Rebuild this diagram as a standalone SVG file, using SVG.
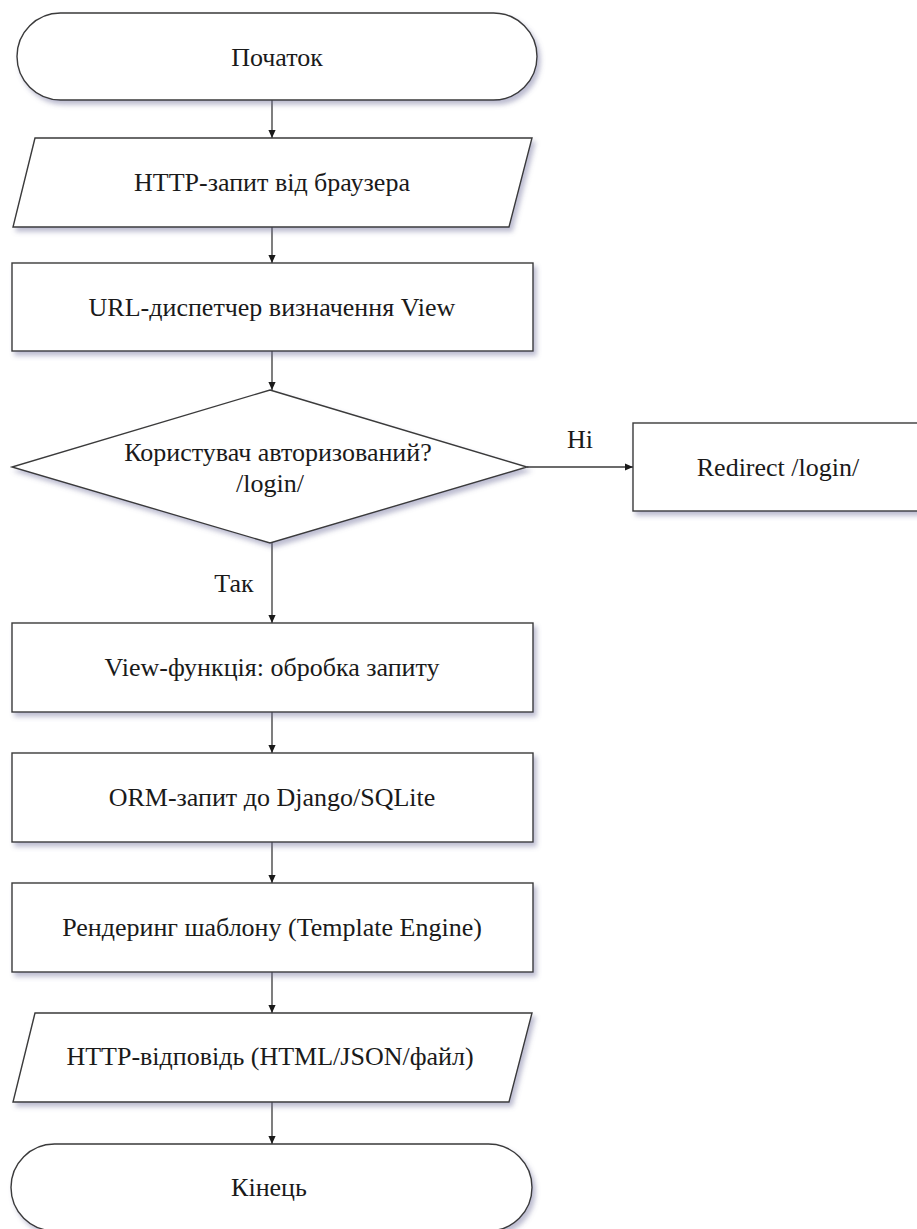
<svg xmlns="http://www.w3.org/2000/svg" width="917" height="1229" viewBox="0 0 917 1229">
  <style>
    .shape { fill: #ffffff; stroke: #3a3a3a; stroke-width: 1.4; filter: url(#shadow); }
    .label { font-family: "Liberation Serif", "Times New Roman", serif; font-size: 26px; fill: #1a1a1a; text-anchor: middle; }
    .edge { stroke: #3a3a3a; stroke-width: 1.3; fill: none; marker-end: url(#arrow); }
  </style>
  <defs>
    <filter id="shadow" x="-10%" y="-10%" width="130%" height="140%">
      <feDropShadow dx="3" dy="4" stdDeviation="2.5" flood-color="#6a6a98" flood-opacity="0.45"/>
    </filter>
    <marker id="arrow" viewBox="0 0 10 10" refX="10" refY="5" markerWidth="8" markerHeight="8" markerUnits="userSpaceOnUse" orient="auto">
      <path d="M0,0.5 L10,5 L0,9.5 Z" fill="#1a1a1a"/>
    </marker>
  </defs>

  <rect width="917" height="1229" fill="#ffffff"/>

  <!-- connectors and their labels -->
  <g id="connectors">
    <line class="edge" x1="272" y1="100" x2="272" y2="138"/>
    <line class="edge" x1="272" y1="227" x2="272" y2="263"/>
    <line class="edge" x1="272" y1="351" x2="272" y2="390"/>
    <line class="edge" x1="527" y1="467" x2="633" y2="467"/>
    <line class="edge" x1="272" y1="543" x2="272" y2="623"/>
    <line class="edge" x1="272" y1="712" x2="272" y2="753"/>
    <line class="edge" x1="272" y1="842" x2="272" y2="883"/>
    <line class="edge" x1="272" y1="972" x2="272" y2="1013"/>
    <line class="edge" x1="272" y1="1102" x2="272" y2="1144"/>
    <text class="label" x="580" y="448">Ні</text>
    <text class="label" x="234" y="592">Так</text>
  </g>

  <g id="start">
    <rect class="shape" x="17" y="13" width="520" height="87" rx="43.5" ry="43.5"/>
    <text class="label" x="277" y="66">Початок</text>
  </g>

  <g id="request">
    <polygon class="shape" points="35,138 532,138 509,227 13,227"/>
    <text class="label" x="272" y="191">HTTP-запит від браузера</text>
  </g>

  <g id="dispatcher">
    <rect class="shape" x="12" y="263" width="521" height="88"/>
    <text class="label" x="272" y="316">URL-диспетчер визначення View</text>
  </g>

  <g id="auth-check">
    <polygon class="shape" points="270,390 527,467 270,543 12,467"/>
    <text class="label" x="278" y="461">Користувач авторизований?</text>
    <text class="label" x="270" y="492">/login/</text>
  </g>

  <g id="redirect">
    <rect class="shape" x="633" y="423" width="292" height="88"/>
    <text class="label" x="778" y="476">Redirect /login/</text>
  </g>

  <g id="view">
    <rect class="shape" x="12" y="623" width="521" height="89"/>
    <text class="label" x="272" y="676">View-функція: обробка запиту</text>
  </g>

  <g id="orm">
    <rect class="shape" x="12" y="753" width="521" height="89"/>
    <text class="label" x="272" y="806">ORM-запит до Django/SQLite</text>
  </g>

  <g id="render">
    <rect class="shape" x="12" y="883" width="521" height="89"/>
    <text class="label" x="272" y="936">Рендеринг шаблону (Template Engine)</text>
  </g>

  <g id="response">
    <polygon class="shape" points="35,1013 532,1013 509,1102 13,1102"/>
    <text class="label" x="270" y="1065">HTTP-відповідь (HTML/JSON/файл)</text>
  </g>

  <g id="end">
    <rect class="shape" x="11" y="1144" width="521" height="87" rx="43.5" ry="43.5"/>
    <text class="label" x="269" y="1196">Кінець</text>
  </g>
</svg>
